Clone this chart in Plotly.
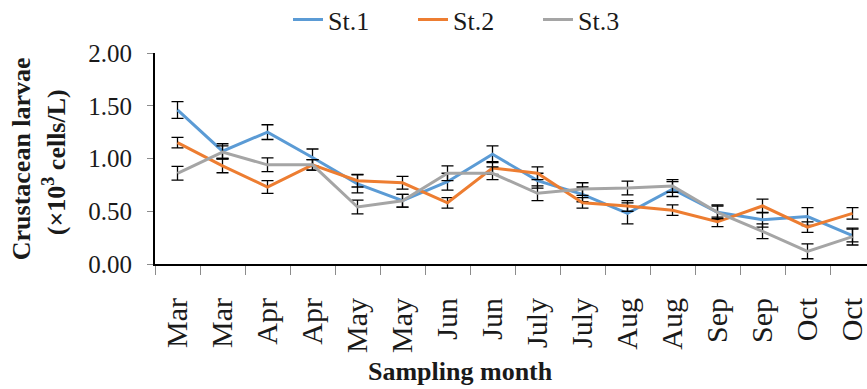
import plotly.graph_objects as go

months = ["Mar", "Mar", "Apr", "Apr", "May", "May", "Jun", "Jun",
          "July", "July", "Aug", "Aug", "Sep", "Sep", "Oct", "Oct"]
st1 = [1.46, 1.07, 1.25, 1.01, 0.76, 0.60, 0.78, 1.04, 0.79, 0.66, 0.48, 0.71, 0.49, 0.42, 0.45, 0.27]
st2 = [1.15, 0.93, 0.73, 0.94, 0.79, 0.77, 0.58, 0.91, 0.86, 0.58, 0.55, 0.51, 0.40, 0.55, 0.35, 0.48]
st3 = [0.86, 1.06, 0.94, 0.94, 0.54, 0.60, 0.86, 0.86, 0.67, 0.71, 0.72, 0.74, 0.49, 0.31, 0.12, 0.26]
err1 = [0.08, 0.07, 0.07, 0.08, 0.085, 0.06, 0.08, 0.08, 0.07, 0.07, 0.10, 0.07, 0.07, 0.07, 0.085, 0.06]
err2 = [0.05, 0.065, 0.06, 0.05, 0.06, 0.06, 0.05, 0.06, 0.06, 0.05, 0.05, 0.05, 0.045, 0.065, 0.05, 0.055]
err3 = [0.065, 0.06, 0.065, 0.05, 0.065, 0.06, 0.07, 0.06, 0.07, 0.06, 0.065, 0.06, 0.06, 0.07, 0.07, 0.08]
y_ticks = [0, 0.5, 1.0, 1.5, 2.0]

series = [("St.1", st1, err1, "#5B9BD5"),
          ("St.2", st2, err2, "#ED7D31"),
          ("St.3", st3, err3, "#A5A5A5")]

xs = list(range(len(months)))
fig = go.Figure()
for name, vals, errs, col in series:
    fig.add_trace(go.Scatter(
        x=xs, y=vals, name=name, mode="lines",
        line=dict(color=col, width=3),
        error_y=dict(type="data", array=errs, visible=True,
                     color="black", thickness=1.3, width=6),
    ))

W, H = 867, 389
L, R, T, B = 155, 0, 52.5, 125
pw, ph = W - L - R, H - T - B

fig.update_layout(
    width=W, height=H,
    margin=dict(l=L, r=R, t=T, b=B, autoexpand=False),
    paper_bgcolor="white", plot_bgcolor="white",
    font=dict(family="Liberation Serif, Times New Roman, serif", color="#1a1a1a"),
    showlegend=True,
    legend=dict(orientation="h", x=(288 - L) / pw, xanchor="left",
                y=1 + (52.5 - 19) / ph, yanchor="middle",
                font=dict(size=26), entrywidth=80, entrywidthmode="pixels",
                bgcolor="rgba(0,0,0,0)"),
    xaxis=dict(
        range=[-0.5, -0.5 + pw / 45.0], automargin=False,
        tickmode="array", tickvals=xs, ticktext=months,
        tickangle=-90, tickfont=dict(size=30),
        ticks="", ticklabelstandoff=20, ticklabeloverflow="allow",
        showline=True, linecolor="black", linewidth=2,
        showgrid=False, zeroline=False,
        minor=dict(tickmode="array", tickvals=[i - 0.5 for i in range(len(months) + 1)],
                   ticks="outside", ticklen=9, tickcolor="#8c8c8c", tickwidth=1.2,
                   showgrid=False),
    ),
    yaxis=dict(
        range=[0, 2], automargin=False, tickmode="array", tickvals=y_ticks,
        ticktext=[f"{v:.2f}" for v in y_ticks],
        tickfont=dict(size=25),
        ticks="outside", ticklen=6, tickcolor="#8c8c8c", tickwidth=1.2,
        ticklabelstandoff=10,
        showline=True, linecolor="black", linewidth=2,
        showgrid=False, zeroline=False,
    ),
)

fig.add_annotation(text="<b>Crustacean larvae</b>", xref="paper", yref="paper",
                   x=(21 - L) / pw, y=(264 - 159) / ph, textangle=-90,
                   xanchor="center", yanchor="middle", showarrow=False,
                   font=dict(size=26))
fig.add_annotation(text="<b>(×10<sup>3</sup> cells/L)</b>", xref="paper", yref="paper",
                   x=(54 - L) / pw, y=(264 - 162) / ph, textangle=-90,
                   xanchor="center", yanchor="middle", showarrow=False,
                   font=dict(size=26))
fig.add_annotation(text="<b>Sampling month</b>", xref="paper", yref="paper",
                   x=(460 - L) / pw, y=-(372 - 264) / ph,
                   xanchor="center", yanchor="middle", showarrow=False,
                   font=dict(size=26))

fig.write_html("out.html", config={"displayModeBar": False},
               post_script="document.body.style.margin='0';document.body.style.overflow='hidden';")
